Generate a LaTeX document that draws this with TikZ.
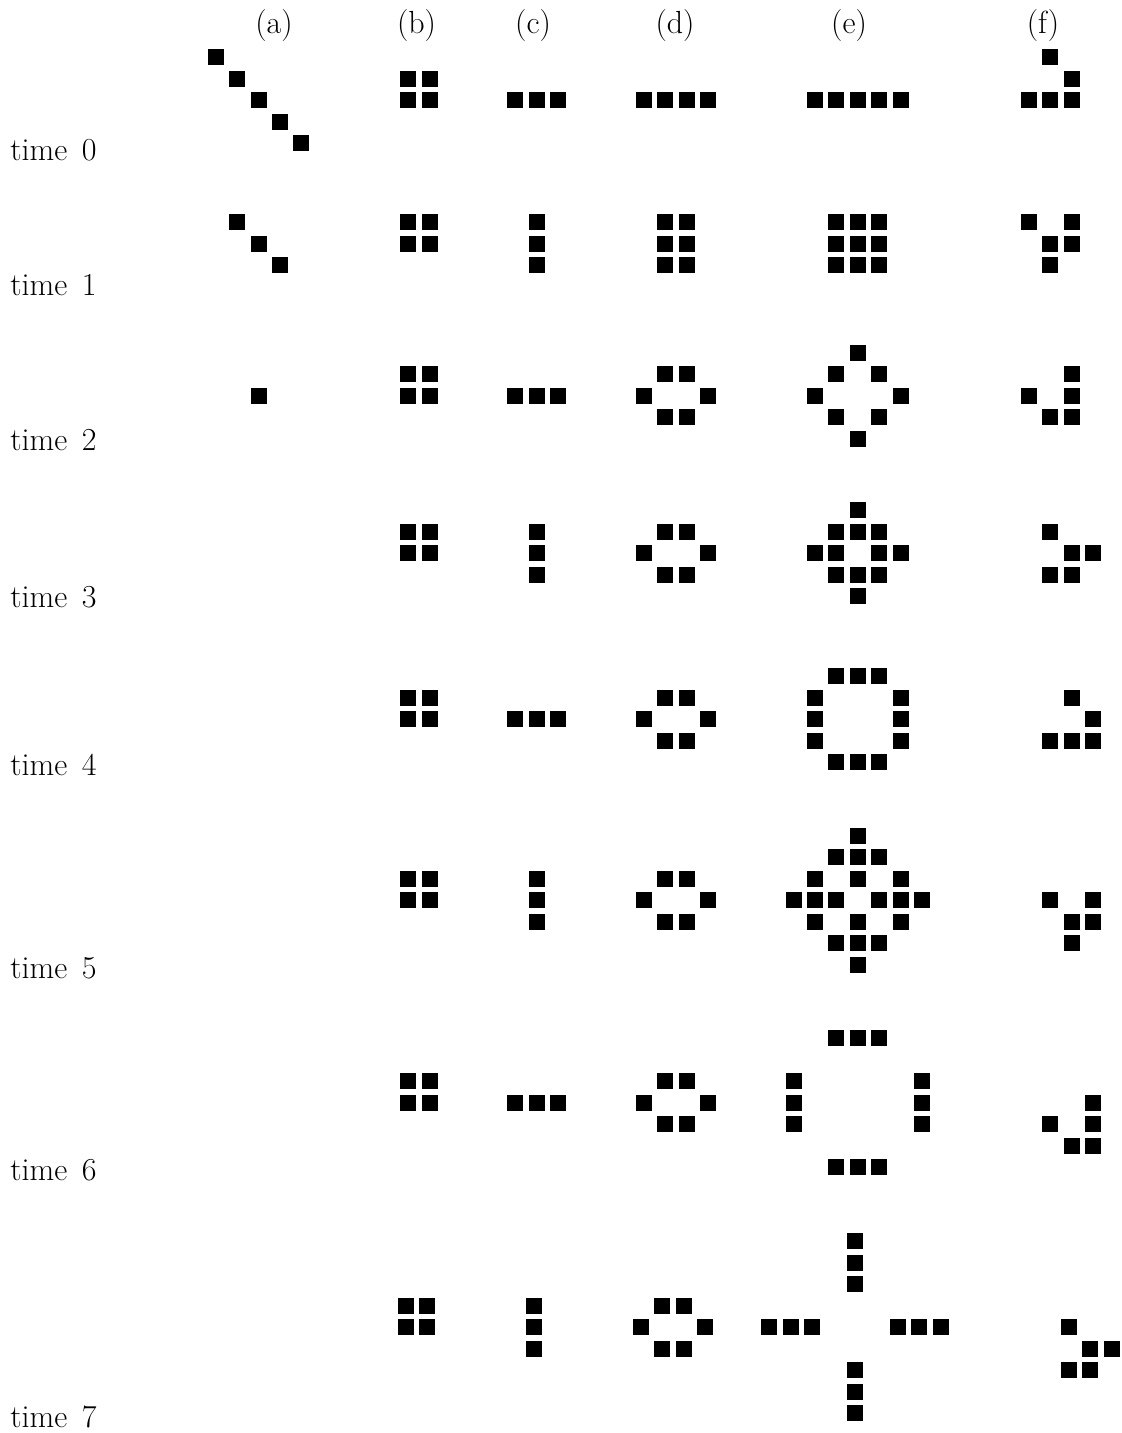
\documentclass[tikz,border=0pt]{standalone}
\usetikzlibrary{positioning}

\begin{document}
\begin{tikzpicture}[x=0.5pt, y=-0.5pt,
    lbl/.style={font=\fontsize{16}{19}\selectfont},
    alive/.style={fill=black}]
  \useasboundingbox (0,0) rectangle (1122,1433);

  % column heads
  \foreach \h/\x in {a/274, b/416.5, c/533, d/675, e/849, f/1043}
    \node[lbl, anchor=base] (head\h) at (\x,34) {(\h)};

  % row labels
  \foreach \t/\y in {0/161, 1/296, 2/450, 3/607, 4/775, 5/978, 6/1180, 7/1427}
    \node[lbl, anchor=base west, inner sep=0pt] (time\t) at (10,\y) {time\hspace{0.45em}\t};

  % time 0
  \begin{scope}[shift={(408.3,100.3)}]
    \foreach \c/\r in {-9/-2, -8/-1, -7/0, -6/1, -5/2,
        0/-1, 1/-1, 0/0, 1/0, 5/0, 6/0, 7/0,
        11/0, 12/0, 13/0, 14/0, 19/0, 20/0, 21/0, 22/0, 23/0,
        30/-2, 31/-1, 29/0, 30/0, 31/0}
      \fill[alive] (\c*21.4-8, \r*21.5-8) rectangle ++(16,16);
  \end{scope}

  % time 1
  \begin{scope}[shift={(408.3,244)}]
    \foreach \c/\r in {-8/-1, -7/0, -6/1,
        0/-1, 1/-1, 0/0, 1/0, 6/-1, 6/0, 6/1,
        12/-1, 13/-1, 12/0, 13/0, 12/1, 13/1,
        20/-1, 21/-1, 22/-1, 20/0, 21/0, 22/0, 20/1, 21/1, 22/1,
        29/-1, 31/-1, 30/0, 31/0, 30/1}
      \fill[alive] (\c*21.4-8, \r*21.5-8) rectangle ++(16,16);
  \end{scope}

  % time 2
  \begin{scope}[shift={(408.3,395.7)}]
    \foreach \c/\r in {-7/0,
        0/-1, 1/-1, 0/0, 1/0, 5/0, 6/0, 7/0,
        12/-1, 13/-1, 11/0, 14/0, 12/1, 13/1,
        21/-2, 20/-1, 22/-1, 19/0, 23/0, 20/1, 22/1, 21/2,
        31/-1, 29/0, 31/0, 30/1, 31/1}
      \fill[alive] (\c*21.4-8, \r*21.5-8) rectangle ++(16,16);
  \end{scope}

  % time 3
  \begin{scope}[shift={(408.3,553)}]
    \foreach \c/\r in {0/-1, 1/-1, 0/0, 1/0, 6/-1, 6/0, 6/1,
        12/-1, 13/-1, 11/0, 14/0, 12/1, 13/1,
        21/-2, 20/-1, 21/-1, 22/-1, 19/0, 20/0, 22/0, 23/0,
        20/1, 21/1, 22/1, 21/2,
        30/-1, 31/0, 32/0, 30/1, 31/1}
      \fill[alive] (\c*21.4-8, \r*21.5-8) rectangle ++(16,16);
  \end{scope}

  % time 4
  \begin{scope}[shift={(408.3,719)}]
    \foreach \c/\r in {0/-1, 1/-1, 0/0, 1/0, 5/0, 6/0, 7/0,
        12/-1, 13/-1, 11/0, 14/0, 12/1, 13/1,
        20/-2, 21/-2, 22/-2, 19/-1, 23/-1, 19/0, 23/0, 19/1, 23/1,
        20/2, 21/2, 22/2,
        31/-1, 32/0, 30/1, 31/1, 32/1}
      \fill[alive] (\c*21.4-8, \r*21.5-8) rectangle ++(16,16);
  \end{scope}

  % time 5
  \begin{scope}[shift={(408.3,900)}]
    \foreach \c/\r in {0/-1, 1/-1, 0/0, 1/0, 6/-1, 6/0, 6/1,
        12/-1, 13/-1, 11/0, 14/0, 12/1, 13/1,
        21/-3, 20/-2, 21/-2, 22/-2, 19/-1, 21/-1, 23/-1,
        18/0, 19/0, 20/0, 22/0, 23/0, 24/0,
        19/1, 21/1, 23/1, 20/2, 21/2, 22/2, 21/3,
        30/0, 32/0, 31/1, 32/1, 31/2}
      \fill[alive] (\c*21.4-8, \r*21.5-8) rectangle ++(16,16);
  \end{scope}

  % time 6
  \begin{scope}[shift={(408.3,1102.7)}]
    \foreach \c/\r in {0/-1, 1/-1, 0/0, 1/0, 5/0, 6/0, 7/0,
        12/-1, 13/-1, 11/0, 14/0, 12/1, 13/1,
        20/-3, 21/-3, 22/-3, 18/-1, 18/0, 18/1, 24/-1, 24/0, 24/1,
        20/3, 21/3, 22/3,
        32/0, 30/1, 32/1, 31/2, 32/2}
      \fill[alive] (\c*21.4-8, \r*21.5-8) rectangle ++(16,16);
  \end{scope}

  % time 7
  \begin{scope}[shift={(405.6,1327)}]
    \foreach \c/\r in {0/-1, 1/-1, 0/0, 1/0, 6/-1, 6/0, 6/1,
        12/-1, 13/-1, 11/0, 14/0, 12/1, 13/1,
        21/-4, 21/-3, 21/-2, 17/0, 18/0, 19/0, 23/0, 24/0, 25/0,
        21/2, 21/3, 21/4,
        31/0, 32/1, 33/1, 31/2, 32/2}
      \fill[alive] (\c*21.4-8, \r*21.5-8) rectangle ++(16,16);
  \end{scope}
\end{tikzpicture}
\end{document}
